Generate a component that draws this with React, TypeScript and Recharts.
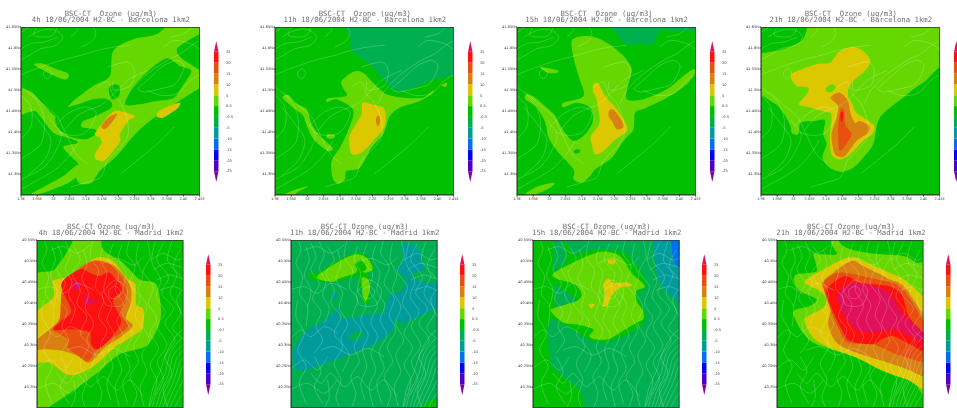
import React from "react";
import { ScatterChart, Scatter, XAxis, YAxis, Curve } from "recharts";

type Pt = number[];
type Layer = { band: string; cells: Pt[] };

// Ozone difference bands, lowest to highest, and their colour-bar labels
const bandNames = ["<-25", "-25", "-20", "-15", "-10", "-5", "-0.5", "0.5", "5", "10", "15", "20", ">25"];
const bandColors = ["#8000a0", "#5000c0", "#0000ff", "#0070f0", "#009c9c", "#00b050", "#00c000", "#64d800", "#dcc800", "#d88010", "#e85010", "#ff1010", "#e0105a"];
const colorbarLabels = ["-25", "-20", "-15", "-10", "-5", "-0.5", "0.5", "5", "10", "15", "20", "25"];
const colorOf = (b: string) => bandColors[bandNames.indexOf(b)];
const BG = "-0.5", LT = "0.5", YE = "5", OR = "10", RO = "15", RE = "20", CR = ">25", DG = "-5", TE = "-10", BL = "-15";

const bcnLonTicks = [1.9, 1.95, 2, 2.05, 2.1, 2.15, 2.2, 2.25, 2.3, 2.35, 2.4, 2.45];
const bcnLatTicks = [41.3, 41.35, 41.4, 41.45, 41.5, 41.55, 41.6, 41.65];
const madLatTicks = [40.2, 40.25, 40.3, 40.35, 40.4, 40.45, 40.5, 40.55];

// Contour polygons in model grid cells (x from west, y from north)
const bcn4h: Layer[] = [
  { band: LT, cells: [[467,-20],[570,-20],[570,170],[537,184],[467,227],[407,267],[347,317],[287,387],[237,432],[212,467],[177,470],[163,442],[172,412],[152,390],[127,359],[172,347],[142,332],[97,317],[57,267],[37,252],[-30,268],[-30,185],[27,192],[67,232],[102,267],[127,257],[157,222],[217,177],[267,147],[277,72],[337,37],[407,22]] },
  { band: BG, cells: [[477,57],[570,15],[570,135],[502,107],[472,82]] },
  { band: BG, cells: [[312,232],[332,187],[377,137],[437,94],[477,117],[512,132],[482,182],[457,214],[407,222],[357,232]] },
  { band: BG, cells: [[264,184],[282,172],[297,180],[294,207],[272,217]] },
  { band: BG, cells: [[105,262],[127,245],[172,232],[217,217],[262,217],[272,242],[212,272],[187,282],[182,300],[222,307],[227,320],[192,337],[142,327],[107,297]] },
  { band: LT, cells: [[39,112],[67,110],[107,127],[142,140],[137,157],[107,150],[67,130]] },
  { band: LT, cells: [[32,500],[67,480],[127,447],[169,414],[177,432],[152,462],[97,487],[47,504]] },
  { band: YE, cells: [[282,252],[342,267],[322,282],[297,322],[299,342],[277,372],[249,402],[225,397],[222,382],[242,347],[237,332],[222,322],[242,292]] },
  { band: YE, cells: [[407,267],[422,247],[477,227],[467,247],[427,272]] },
  { band: OR, cells: [[242,297],[262,272],[289,260],[272,287],[252,307]] },
];
const bcn11h: Layer[] = [
  { band: DG, cells: [[240,-30],[570,-30],[570,122],[465,162],[395,190],[355,187],[325,157],[290,117],[230,72],[228,47]] },
  { band: LT, cells: [[200,162],[235,134],[265,137],[295,167],[335,202],[385,212],[445,212],[475,190],[470,202],[435,222],[375,242],[345,267],[325,322],[290,362],[255,422],[215,432],[210,457],[190,470],[173,452],[170,402],[195,362],[215,322],[235,267],[230,242],[185,217],[157,225],[160,214],[215,207],[205,184]] },
  { band: LT, cells: [[23,212],[40,204],[60,227],[95,247],[110,292],[135,327],[173,362],[160,372],[120,342],[100,307],[85,267],[55,242]] },
  { band: LT, cells: [[157,322],[180,324],[175,334],[157,334]] },
  { band: LT, cells: [[27,504],[65,487],[100,478],[65,497],[55,510]] },
  { band: LT, cells: [[500,174],[517,167],[513,180]] },
  { band: YE, cells: [[263,227],[290,232],[327,244],[333,277],[325,307],[290,347],[260,377],[230,380],[223,332],[240,297],[260,262]] },
  { band: OR, cells: [[305,270],[313,267],[316,282],[310,297],[304,287]] },
];
const bcn15h: Layer[] = [
  { band: DG, cells: [[275,-30],[430,-30],[410,47],[380,50],[330,52],[305,27]] },
  { band: DG, cells: [[430,-10],[570,-10],[570,7],[450,10]] },
  { band: LT, cells: [[165,40],[200,27],[240,32],[285,57],[325,92],[345,127],[335,167],[330,217],[380,217],[450,187],[500,147],[530,127],[535,137],[510,172],[460,207],[390,242],[355,257],[350,307],[320,342],[285,392],[235,427],[220,447],[195,467],[170,457],[170,427],[125,377],[95,332],[85,287],[60,242],[25,217],[30,202],[55,212],[95,247],[115,267],[140,312],[170,342],[205,322],[228,282],[220,242],[180,227],[140,240],[140,227],[200,207],[185,147],[170,92]] },
  { band: LT, cells: [[25,500],[65,477],[112,467],[100,482],[50,504]] },
  { band: LT, cells: [[72,120],[120,129],[122,137],[95,138],[75,127]] },
  { band: BG, cells: [[172,370],[188,367],[187,377],[172,379]] },
  { band: YE, cells: [[230,172],[245,170],[265,207],[300,247],[332,307],[290,342],[260,372],[235,382],[225,352],[222,327],[248,287],[240,222],[228,192]] },
  { band: OR, cells: [[278,250],[292,250],[318,287],[318,302],[300,307],[285,282],[275,267]] },
];
const bcn21h: Layer[] = [
  { band: LT, cells: [[-60,-60],[600,-60],[600,570],[-60,570]] },
  { band: BG, cells: [[-30,-30],[129,-30],[129,32],[92,57],[42,72],[-30,72]] },
  { band: BG, cells: [[-30,220],[37,227],[67,257],[89,297],[92,317],[112,322],[119,287],[162,282],[192,280],[187,322],[197,352],[185,392],[207,422],[242,434],[277,422],[307,392],[337,352],[357,272],[427,212],[487,167],[570,130],[570,540],[-30,540]] },
  { band: YE, cells: [[92,142],[167,112],[207,107],[237,72],[277,60],[307,72],[329,102],[312,132],[277,162],[262,187],[262,212],[252,222],[237,252],[207,257],[142,240],[114,232],[137,202],[142,182],[107,177]] },
  { band: YE, cells: [[207,202],[262,212],[287,257],[337,292],[337,317],[307,342],[262,387],[232,397],[212,382],[207,332],[212,272]] },
  { band: LT, cells: [[195,184],[212,172],[224,180],[212,195],[199,194]] },
  { band: OR, cells: [[209,212],[237,197],[262,222],[267,252],[282,287],[297,282],[325,297],[322,317],[287,342],[252,387],[227,387],[217,367],[212,322],[227,272],[232,237]] },
  { band: RO, cells: [[239,247],[250,252],[252,287],[262,307],[272,322],[257,352],[237,372],[232,337],[232,302]] },
  { band: RE, cells: [[239,257],[247,257],[245,282],[240,282]] },
  { band: BG, cells: [[137,354],[154,357],[147,362]] },
];
const mad4h: Layer[] = [
  { band: LT, cells: [[-30,140],[53,88],[103,13],[118,-30],[188,-30],[198,28],[258,68],[308,118],[358,133],[373,213],[363,263],[328,318],[248,343],[188,393],[128,438],[48,493],[-30,530]] },
  { band: YE, cells: [[-30,245],[48,173],[48,123],[98,108],[178,53],[228,63],[268,113],[296,133],[298,193],[320,208],[318,263],[288,288],[233,323],[178,373],[128,401],[88,403],[38,368],[-30,360]] },
  { band: OR, cells: [[-30,325],[68,238],[76,143],[128,83],[178,61],[233,78],[278,133],[283,183],[268,233],[288,258],[248,293],[203,323],[158,368],[123,348],[78,333],[28,328]] },
  { band: RO, cells: [[48,268],[68,238],[78,143],[128,88],[173,63],[228,78],[266,133],[268,178],[253,223],[273,258],[238,288],[188,318],[153,363],[118,343],[93,323],[93,298]] },
  { band: RE, cells: [[50,270],[70,245],[103,213],[73,133],[128,88],[158,98],[188,108],[218,98],[256,148],[228,183],[253,243],[223,293],[183,328],[163,313],[158,278],[113,268]] },
  { band: CR, cells: [[103,133],[128,123],[128,148],[113,151]] },
  { band: CR, cells: [[143,161],[163,178],[188,188],[153,193],[146,213],[143,183]] },
];
const mad11h: Layer[] = [
  { band: DG, cells: [[-60,-60],[500,-60],[500,570],[-60,570]] },
  { band: TE, cells: [[7,333],[47,273],[97,243],[147,203],[147,233],[187,233],[247,223],[282,213],[292,173],[337,148],[347,118],[317,88],[337,63],[332,18],[357,8],[387,33],[392,68],[407,83],[357,108],[407,128],[470,138],[470,183],[377,233],[337,248],[312,238],[307,268],[257,308],[177,343],[97,373],[37,391],[12,383]] },
  { band: DG, cells: [[177,283],[212,273],[219,288],[192,301],[177,295]] },
  { band: BG, cells: [[342,530],[470,463],[470,530]] },
  { band: BG, cells: [[52,98],[82,98],[147,58],[202,38],[237,58],[250,88],[232,103],[237,143],[232,188],[217,188],[207,133],[197,108],[147,123],[87,125],[57,115]] },
  { band: LT, cells: [[82,105],[147,63],[197,43],[232,58],[245,88],[222,98],[202,83],[192,100],[147,115],[127,125],[87,119]] },
  { band: LT, cells: [[212,115],[232,118],[237,148],[225,185],[217,163]] },
  { band: BG, cells: [[192,71],[212,61],[227,83],[217,93],[197,83]] },
  { band: TE, cells: [[125,163],[137,163],[137,177],[125,177]] },
];
const mad15h: Layer[] = [
  { band: DG, cells: [[63,-30],[88,-30],[100,55],[122,50],[115,-30],[470,-30],[470,530],[186,530],[141,453],[81,403],[51,363],[46,253],[71,223],[61,143],[63,93]] },
  { band: BG, cells: [[56,108],[131,43],[211,28],[281,43],[341,133],[311,163],[339,228],[311,268],[261,293],[211,308],[171,298],[66,238],[51,213],[131,193],[126,173],[66,133]] },
  { band: TE, cells: [[366,-30],[470,-30],[470,191],[411,163],[386,133],[371,93]] },
  { band: BL, cells: [[416,-30],[470,-30],[470,83],[426,68]] },
  { band: LT, cells: [[61,101],[141,58],[206,35],[261,48],[296,98],[336,138],[311,153],[311,183],[331,213],[331,238],[311,248],[261,278],[226,298],[186,298],[169,288],[181,268],[131,253],[91,248],[53,213],[66,203],[131,183],[146,163],[126,133],[76,118]] },
  { band: YE, cells: [[211,133],[226,115],[241,128],[286,128],[296,138],[261,143],[236,168],[226,193],[209,198],[216,163]] },
  { band: YE, cells: [[225,60],[247,60],[243,73],[228,71]] },
  { band: YE, cells: [[168,193],[185,193],[176,206]] },
];
const mad21h: Layer[] = [
  { band: LT, cells: [[164,-30],[199,18],[269,38],[379,48],[419,68],[470,98],[470,480],[409,423],[339,398],[259,358],[179,333],[109,308],[74,273],[49,223],[59,208],[99,198],[119,178],[69,153],[51,123],[59,103],[119,93],[109,43],[129,43],[179,43],[164,13]] },
  { band: YE, cells: [[84,125],[149,83],[219,51],[269,68],[339,98],[394,128],[470,223],[470,445],[389,418],[319,393],[239,353],[159,323],[109,293],[84,238],[139,203],[149,178],[129,153]] },
  { band: OR, cells: [[135,133],[169,98],[224,63],[259,78],[339,118],[389,148],[470,283],[470,410],[379,383],[319,363],[239,338],[179,308],[154,253],[164,188]] },
  { band: RO, cells: [[139,133],[169,103],[204,98],[299,118],[379,148],[470,303],[470,370],[359,343],[289,313],[214,308],[189,273],[159,203]] },
  { band: RE, cells: [[149,148],[204,108],[249,128],[334,138],[374,163],[399,233],[470,313],[470,350],[399,313],[349,288],[314,298],[289,313],[219,303],[194,268],[164,203]] },
  { band: CR, cells: [[184,163],[229,128],[329,153],[379,223],[470,303],[470,320],[389,283],[349,268],[279,278],[239,268],[194,213]] },
];

// Terrain height contours (grid cells), one set per domain
const bcnTerrain: Pt[][] = [
  [[20,30],[60,10],[100,8],[125,30],[105,55],[60,65],[25,85],[-5,100]],
  [[50,-5],[40,25],[80,30],[100,20],[110,-5]],
  [[-5,145],[60,120],[120,100],[180,85],[230,70],[280,60],[330,55]],
  [[-5,70],[30,50],[70,45],[110,30]],
  [[68,135],[82,125],[92,140],[80,155],[68,145],[68,135]],
  [[100,300],[140,260],[190,240],[225,255],[215,290],[190,320],[150,325],[115,315]],
  [[130,310],[165,270],[200,250],[240,235],[270,210],[320,160],[380,130]],
  [[-5,340],[30,300],[30,240],[-5,200]],
  [[-5,400],[60,350],[70,280],[50,225],[-5,175]],
  [[-5,460],[70,420],[110,360],[120,320],[90,280]],
  [[-5,490],[100,430],[150,380],[175,340]],
  [[310,230],[330,190],[380,140],[440,100],[480,80],[520,50],[540,40]],
  [[350,185],[390,150],[430,115],[470,100],[490,120],[465,170],[420,185],[370,195],[350,185]],
  [[430,60],[460,40],[510,50],[540,70]],
  [[230,180],[260,165],[275,200],[300,230],[320,280],[320,330],[290,370],[260,400],[240,450],[200,465],[150,480]],
  [[25,195],[70,235],[110,270],[130,310],[165,380],[200,410]],
  [[260,120],[320,105],[340,130],[330,175],[280,190],[275,165]],
  [[-5,20],[30,-5]],
  [[150,30],[170,10],[165,-5]],
  [[180,60],[210,45],[225,20],[215,-5]],
  [[380,190],[420,205],[470,200],[510,160],[540,140]],
  [[450,30],[490,20],[520,-5]],
  [[300,440],[350,400],[410,350],[460,300]],
  [[20,240],[60,290],[90,340],[70,400],[20,445]],
];
const madTerrain: Pt[][] = [
  [[20,-5],[30,30],[15,70],[35,110],[25,160],[50,200],[45,260]],
  [[60,10],[75,50],[60,90],[85,130],[65,175],[90,215],[75,260],[95,300],[70,340]],
  [[110,20],[130,60],[105,100],[130,150],[120,190],[150,230],[130,280],[155,320],[130,370],[150,420],[135,470],[150,510]],
  [[170,-5],[160,50],[185,90],[175,140],[200,180],[185,230],[210,270],[190,320],[205,365],[180,410],[195,460],[180,510]],
  [[230,10],[215,60],[245,100],[235,150],[260,195],[240,245],[260,290],[240,340],[255,390],[235,440],[250,510]],
  [[280,-5],[270,40],[295,80],[280,130],[310,175],[295,225],[315,270],[290,320],[305,365],[280,410],[300,460],[285,510]],
  [[330,-5],[340,50],[320,95],[350,140],[335,190],[360,235],[340,280],[365,325],[340,375],[360,425],[335,510]],
  [[380,10],[360,60],[395,110],[375,160],[410,205],[385,250],[415,300],[385,350],[405,400],[380,450],[395,510]],
  [[430,30],[410,80],[445,130],[420,180],[445,240]],
  [[-5,150],[40,140],[80,160],[120,130],[170,150]],
  [[-5,300],[30,270],[60,290],[100,260],[140,280]],
  [[-5,390],[40,360],[80,390],[110,350]],
  [[-5,450],[50,430],[100,460],[140,420]],
  [[335,510],[348,445],[370,395],[390,335],[420,285],[445,265]],
  [[345,510],[360,450],[385,400],[400,340],[430,300],[445,290]],
  [[355,510],[372,455],[395,405],[410,345],[445,310]],
  [[365,510],[382,460],[405,410],[420,355],[445,325]],
  [[375,510],[392,465],[412,420],[428,370],[445,345]],
  [[385,510],[402,470],[420,430],[436,385],[445,370]],
  [[395,510],[412,475],[430,440],[445,410]],
  [[410,510],[425,480],[445,450]],
  [[340,60],[380,40],[420,60],[445,50]],
  [[350,90],[390,70],[445,85]],
  [[360,120],[400,105],[445,120]],
  [[370,150],[410,140],[445,155]],
  [[215,150],[235,138],[252,155],[240,175],[218,172],[215,150]],
  [[195,160],[235,120],[272,150],[255,195],[208,195],[195,160]],
  [[60,400],[90,430],[120,400],[160,440],[200,410],[240,450],[280,420],[320,470]],
  [[40,30],[80,20],[120,40],[160,15]],
  [[195,70],[240,55],[290,75],[320,50]],
  [[90,330],[130,320],[180,345],[230,325],[280,350]],
  [[45,20],[55,60],[40,105],[60,150],[50,200]],
  [[85,5],[100,45],[85,85],[105,125],[95,165],[115,205],[100,250]],
  [[140,30],[150,75],[135,115],[155,160],[145,205],[170,250],[150,300],[175,345],[155,395]],
  [[200,20],[190,60],[210,100],[200,150],[225,195],[210,240],[232,285],[215,330],[228,380],[210,430],[222,480]],
  [[255,15],[245,55],[268,100],[258,150],[282,195],[268,240],[288,285],[265,335],[280,385],[258,430],[272,490]],
  [[305,10],[298,60],[318,105],[305,150],[330,200],[315,250],[338,300],[315,345],[330,395],[310,440],[322,500]],
  [[355,5],[345,65],[372,120],[358,170],[385,215],[362,260],[390,315],[362,365],[380,415],[358,465]],
  [[405,5],[392,60],[420,105],[400,160],[432,215],[408,265],[445,300]],
  [[20,180],[15,230],[40,280],[20,330],[45,380],[25,430],[45,490]],
  [[70,350],[90,395],[70,440],[95,490]],
  [[110,420],[115,470],[100,505]],
];

const titleHead = "BSC-CT  Ozone (ug/m3)";
const titleHeadMad = "BSC-CT Ozone (ug/m3)";
const bcnTitles = ["4h 18/06/2004 H2-BC - Barcelona 1km2", "11h 18/06/2004 H2-BC - Barcelona 1km2", "15h 18/06/2004 H2-BC - Barcelona 1km2", "21h 18/06/2004 H2-BC - Barcelona 1km2"];
const madTitles = ["4h 18/06/2004 H2-BC - Madrid 1km2", "11h 18/06/2004 H2-BC - Madrid 1km2", "15h 18/06/2004 H2-BC - Madrid 1km2", "21h 18/06/2004 H2-BC - Madrid 1km2"];

const bcnLayers = [bcn4h, bcn11h, bcn15h, bcn21h];
const madLayers = [mad4h, mad11h, mad15h, mad21h];

const FONT = "'DejaVu Sans', sans-serif";
const noDot = () => null;
const tickStyle = { fontSize: 3.6, fill: "#444", fontFamily: FONT };

// Catmull-Rom path through the projected contour vertices
function splinePath(pts: { x: number; y: number }[], closed: boolean) {
  const n = pts.length;
  if (n < 2) return "";
  const at = (i: number) => (closed ? pts[(i + n) % n] : pts[Math.max(0, Math.min(n - 1, i))]);
  const k = 1 / 7;
  let d = `M${pts[0].x},${pts[0].y}`;
  const segs = closed ? n : n - 1;
  for (let i = 0; i < segs; i++) {
    const p0 = at(i - 1), p1 = at(i), p2 = at(i + 1), p3 = at(i + 2);
    d += `C${p1.x + (p2.x - p0.x) * k},${p1.y + (p2.y - p0.y) * k} ${p2.x - (p3.x - p1.x) * k},${p2.y - (p3.y - p1.y) * k} ${p2.x},${p2.y}`;
  }
  return d + (closed ? "Z" : "");
}
const filled = (fill: string) => (p: any) => <path d={splinePath(p.points, true)} fill={fill} stroke="none" />;
const straight = (fill: string) => (p: any) => <Curve points={p.points} type="linearClosed" fill={fill} stroke="none" />;
const traced = (p: any) => <path d={splinePath(p.points, false)} fill="none" stroke="#ffffff" strokeOpacity={0.38} strokeWidth={0.55} />;

function Panel({ plotX, plotY, plotW, plotH, gridW, lonDomain, latTop, latTicks, layers, terrain, head, title, showX }: any) {
  const yAxisW = 24;
  const toGeo = (c: Pt) => ({
    lon: lonDomain[0] + (c[0] / gridW) * (lonDomain[1] - lonDomain[0]),
    lat: latTop - (c[1] / 504) * 0.4,
  });
  const frame = [[0, 0], [gridW, 0], [gridW, 504], [0, 504]].map(toGeo);
  const bg = [[-30, -30], [gridW + 30, -30], [gridW + 30, 540], [-30, 540]].map(toGeo);
  return (
    <>
      <div style={{ position: "absolute", left: plotX + plotW / 2 + 0.5 - 110, width: 220, top: plotY - 15.5, fontFamily: "'DejaVu Sans Mono', monospace", fontSize: 7.3, lineHeight: "6px", color: "#707070", textAlign: "center", whiteSpace: "pre" }}>
        <div>{head}</div>
        <div>{title}</div>
      </div>
      <div style={{ position: "absolute", left: plotX - yAxisW, top: plotY - 4 }}>
        <ScatterChart width={yAxisW + plotW + 6} height={4 + plotH + (showX ? 12 : 1)} margin={{ top: 4, right: 6, bottom: showX ? 0 : 1, left: 0 }}>
          <XAxis type="number" dataKey="lon" domain={lonDomain} allowDataOverflow hide={!showX} ticks={bcnLonTicks} interval={0} height={12} tick={tickStyle} tickSize={1.5} tickMargin={0.5} tickFormatter={(v: number) => `${v}E`} stroke="#333" />
          <YAxis type="number" dataKey="lat" domain={[latTop - 0.4, latTop]} allowDataOverflow ticks={latTicks} interval={0} width={yAxisW} tick={tickStyle} tickSize={1.5} tickMargin={0.5} tickFormatter={(v: number) => `${v}N`} stroke="#333" />
          <Scatter data={bg} shape={noDot} isAnimationActive={false} line={straight(colorOf(BG))} />
          {layers.map((l: Layer, i: number) => (
            <Scatter key={"l" + i} data={l.cells.map(toGeo)} shape={noDot} isAnimationActive={false} line={filled(colorOf(l.band))} />
          ))}
          {terrain.map((t: Pt[], i: number) => (
            <Scatter key={"t" + i} data={t.map(toGeo)} shape={noDot} isAnimationActive={false} line={traced} />
          ))}
          <Scatter data={frame} shape={noDot} isAnimationActive={false} line={(p: any) => <Curve points={p.points} type="linearClosed" fill="none" stroke="#333" strokeWidth={1.4} />} />
        </ScatterChart>
      </div>
    </>
  );
}

function Colorbar({ x, y }: { x: number; y: number }) {
  const bands = bandColors.map((c, i) => {
    if (i === 0) return { c, pts: [[0, 1], [1, 1], [0.5, 0]] };
    if (i === bandColors.length - 1) return { c, pts: [[0, 12], [1, 12], [0.5, 13]] };
    return { c, pts: [[0, i], [1, i], [1, i + 1], [0, i + 1]] };
  });
  const idx = colorbarLabels.map((_, i) => i + 1);
  return (
    <div style={{ position: "absolute", left: x, top: y }}>
      <ScatterChart width={18.5} height={143} margin={{ top: 1, right: 0, bottom: 1, left: 0 }}>
        <XAxis type="number" dataKey="b" domain={[0, 1]} hide />
        <YAxis type="number" dataKey="v" orientation="right" domain={[0, 13]} ticks={idx} interval={0} width={14} axisLine={false} tickLine={false} tick={tickStyle} tickMargin={1.5} tickFormatter={(v: number) => colorbarLabels[v - 1]} />
        {bands.map((s, i) => (
          <Scatter key={i} data={s.pts.map((p) => ({ b: p[0], v: p[1] }))} shape={noDot} isAnimationActive={false} line={straight(s.c)} />
        ))}
      </ScatterChart>
    </div>
  );
}

const topPlotX = [21, 275, 516.7, 761];
const topBarX = [214, 468, 710, 954];
const botPlotX = [37.3, 291, 533, 777.3];
const botBarX = [205.8, 460, 702, 946];

export default function App() {
  return (
    <div style={{ position: "absolute", left: 0, top: 0, width: 957, height: 408, overflow: "hidden", background: "#fff", filter: "blur(0.35px)" }}>
      {topPlotX.map((x, i) => (
        <Panel key={"t" + i} plotX={x} plotY={26.5} plotW={178.7} plotH={168} gridW={537} lonDomain={[1.9, 2.45]} latTop={41.65} latTicks={bcnLatTicks} layers={bcnLayers[i]} terrain={bcnTerrain} head={titleHead} title={bcnTitles[i]} showX />
      ))}
      {botPlotX.map((x, i) => (
        <Panel key={"b" + i} plotX={x} plotY={239.7} plotW={146.4} plotH={168} gridW={440} lonDomain={[-4.1, -3.55]} latTop={40.55} latTicks={madLatTicks} layers={madLayers[i]} terrain={madTerrain} head={titleHeadMad} title={madTitles[i]} showX={false} />
      ))}
      {topBarX.map((x, i) => <Colorbar key={"ct" + i} x={x} y={39.5} />)}
      {botBarX.map((x, i) => <Colorbar key={"cb" + i} x={x} y={253} />)}
    </div>
  );
}
